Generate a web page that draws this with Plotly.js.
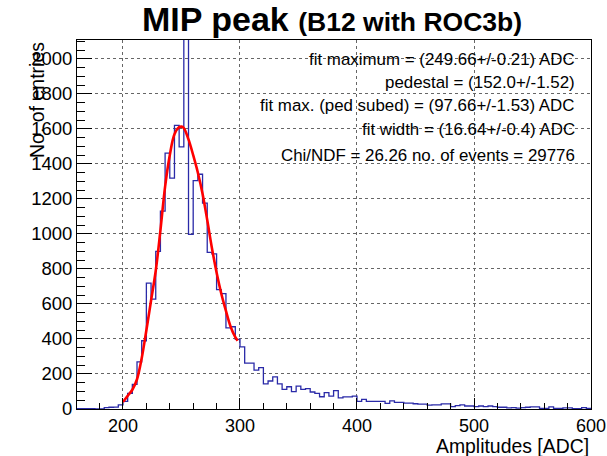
<!DOCTYPE html>
<html>
<head>
<meta charset="utf-8">
<script src="https://cdn.plot.ly/plotly-3.0.1.min.js"></script>
<style>html,body{margin:0;padding:0;background:#fff;}#chart{width:607px;height:456px;}</style>
</head>
<body>
<div id="chart"></div>
<script>
// Histogram: bins of width 4 ADC starting at 160 ADC
var binStart = 160;
var binWidth = 4;
var counts = [
  2,2,2,2,0,1,8,10,11,23,
  44,89,141,269,390,719,628,900,1130,1462,1319,1620,1497,2900,998,1305,1341,1176,895,886,682,659,463,470,398,
  355,262,262,222,236,144,160,184,144,112,127,99,131,112,116,97,89,70,93,74,105,63,69,69,74,
  44,55,44,44,44,44,32,46,38,38,34,34,30,28,28,22,23,23,29,29,13,19,23,17,17,
  13,17,13,17,13,10,10,6,8,5,8,10,12,12,4,4,12,4,4,6,6,2,2,8,3
];
// Fit curve
var fitX = [200,204,208,212,216,220,224,228,232,236,240,244,248,250,252,256,260,264,268,272,276,280,284,288,292,296,298];
var fitY = [40,75,110,170,290,450,620,790,1020,1270,1450,1570,1610,1613,1605,1540,1450,1350,1230,1080,920,780,660,560,470,410,390];
// Texts
var titleMain = "MIP peak";
var titleSub = "(B12 with ROC3b)";
var xTitle = "Amplitudes [ADC]";
var yTitle = "No. of entries";
var statLines = [
  "fit maximum = (249.66+/-0.21) ADC",
  "pedestal = (152.0+/-1.52)",
  "fit max. (ped subed) = (97.66+/-1.53) ADC",
  "fit width = (16.64+/-0.4) ADC",
  "Chi/NDF = 26.26 no. of events = 29776"
];
var xTicks = [200,300,400,500,600];
var yTicks = [0,200,400,600,800,1000,1200,1400,1600,1800,2000];

// build step outline from bins
var hx = [], hy = [];
for (var i = 0; i < counts.length; i++) {
  hx.push(binStart + i * binWidth);
  hy.push(counts[i]);
}
hx.push(binStart + counts.length * binWidth);
hy.push(counts[counts.length - 1]);

var FONT = "Liberation Sans, Arial, Helvetica, sans-serif";
var L = 77, R = 591, T = 40, B = 409;
function py(px) { return (B - px) / (B - T); }
function pxx(px) { return (px - L) / (R - L); }

var statY = [60, 83, 106, 129, 155];
var annotations = statLines.map(function (s, k) {
  return {
    text: s, xref: "paper", yref: "paper", x: pxx(577), y: py(statY[k]),
    xanchor: "right", yanchor: "middle", showarrow: false,
    font: {family: FONT, size: 16.9, color: "#000"}
  };
});
annotations.push({
  text: xTitle, xref: "paper", yref: "paper", x: 1, y: py(446),
  xanchor: "right", yanchor: "middle", showarrow: false,
  font: {family: FONT, size: 19.4, color: "#000"}
});
annotations.push({
  text: yTitle, xref: "paper", yref: "paper", x: pxx(37), y: 1,
  xanchor: "center", yanchor: "top", showarrow: false, textangle: -90,
  font: {family: FONT, size: 19.5, color: "#000"}
});

var traces = [
  {
    x: hx, y: hy, type: "scatter", mode: "lines",
    line: {shape: "hv", color: "#2a2aa8", width: 1.3},
    hoverinfo: "skip"
  },
  {
    x: fitX, y: fitY, type: "scatter", mode: "lines",
    line: {shape: "spline", color: "#ff0000", width: 2.6},
    hoverinfo: "skip"
  }
];

var layout = {
  width: 607, height: 456,
  margin: {l: L, r: 607 - R, t: T, b: 456 - B, pad: 0},
  paper_bgcolor: "#fff", plot_bgcolor: "#fff",
  showlegend: false,
  title: {
    text: "<b>" + titleMain + " <span style='font-size:26.5px'>" + titleSub + "</span></b>",
    font: {family: FONT, size: 34, color: "#000"},
    x: 0.547, xanchor: "center", y: 1 - 19 / 456, yanchor: "middle"
  },
  xaxis: {
    range: [160.7, 600], tickmode: "array", tickvals: xTicks,
    ticks: "inside", ticklen: 11, tickwidth: 1, tickcolor: "#000",
    minor: {dtick: 20, ticks: "inside", ticklen: 6, tickcolor: "#000", showgrid: false},
    showgrid: true, gridcolor: "#666", griddash: "dot", gridwidth: 1,
    showline: true, linecolor: "#000", linewidth: 1, mirror: true,
    zeroline: false, tickfont: {family: FONT, size: 18, color: "#000"},
    ticklabelstandoff: 0
  },
  yaxis: {
    range: [0, 2108], tickmode: "array", tickvals: yTicks,
    ticks: "inside", ticklen: 15, tickwidth: 1, tickcolor: "#000",
    minor: {dtick: 50, ticks: "inside", ticklen: 8, tickcolor: "#000", showgrid: false},
    showgrid: true, gridcolor: "#666", griddash: "dot", gridwidth: 1,
    showline: true, linecolor: "#000", linewidth: 1, mirror: true,
    zeroline: false, tickfont: {family: FONT, size: 18.5, color: "#000"},
    ticklabelstandoff: 0
  },
  annotations: annotations
};

Plotly.newPlot("chart", traces, layout, {staticPlot: true, displayModeBar: false});
</script>
</body>
</html>
